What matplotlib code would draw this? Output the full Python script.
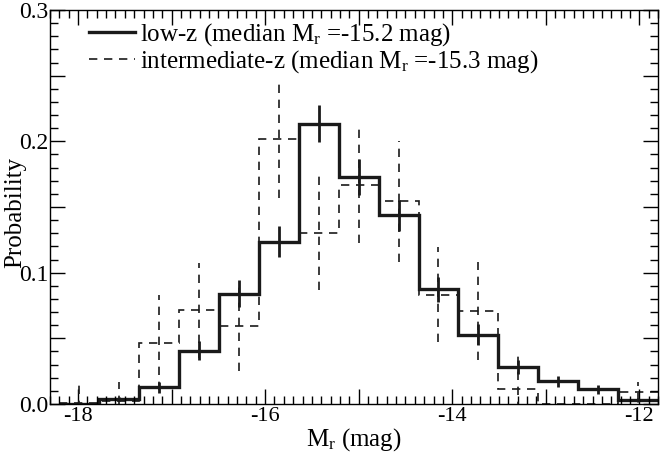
import numpy as np
import matplotlib
matplotlib.use("Agg")
import matplotlib.pyplot as plt
from matplotlib.ticker import MultipleLocator, FuncFormatter
from matplotlib.lines import Line2D

plt.rcParams['font.family'] = ['Liberation Serif', 'DejaVu Serif']
plt.rcParams['mathtext.fontset'] = 'custom'
plt.rcParams['mathtext.rm'] = 'Liberation Serif'
plt.rcParams['mathtext.it'] = 'Liberation Serif:italic'
plt.rcParams['axes.unicode_minus'] = False

# ---- data ----
bin_edges = np.linspace(-18.2, -11.8, 16)
lowz_prob = [0.0, 0.0036, 0.0127, 0.0407, 0.084, 0.1237, 0.2134, 0.173,
             0.1436, 0.0873, 0.0529, 0.0283, 0.0175, 0.0112, 0.003]
lowz_err = [0.0, 0.0015, 0.0042, 0.0075, 0.0105, 0.012, 0.014, 0.0135,
            0.012, 0.0095, 0.008, 0.0055, 0.0042, 0.0035, 0.0016]
inter_prob = [0.0005, 0.0025, 0.0468, 0.0713, 0.0592, 0.202, 0.1305, 0.1667,
              0.1543, 0.0832, 0.0708, 0.0112, 0.0, 0.0, 0.0095]
inter_err = [0.016, 0.014, 0.036, 0.036, 0.034, 0.045, 0.044, 0.044,
             0.046, 0.036, 0.037, 0.027, 0.0, 0.0, 0.007]
label_low = 'low-z (median M$_\\mathrm{r}$ =-15.2 mag)'
label_int = 'intermediate-z (median M$_\\mathrm{r}$ =-15.3 mag)'

centers = 0.5 * (bin_edges[:-1] + bin_edges[1:])
ink = '#1a1a1a'
dash = (0, (5, 4))

fig = plt.figure(figsize=(6.6, 4.58), dpi=100)
ax = fig.add_axes([50/660, 54/458, 608/660, 394/458])

# intermediate-z dashed
ax.stairs(inter_prob, bin_edges, baseline=None, color=ink, lw=1.2,
          linestyle=dash)
eb = ax.errorbar(centers, inter_prob, yerr=inter_err, fmt='none',
                 ecolor=ink, elinewidth=1.2, capsize=0)
eb[2][0].set_linestyle(dash)

# low-z solid
ax.stairs(lowz_prob, bin_edges, baseline=None, color=ink, lw=2.4)
ax.errorbar(centers, lowz_prob, yerr=lowz_err, fmt='none',
            ecolor=ink, elinewidth=2.0, capsize=0)

ax.set_xlim(-18.3, -11.8)
ax.set_ylim(0.0, 0.3)

ax.xaxis.set_major_locator(MultipleLocator(1))
ax.xaxis.set_minor_locator(MultipleLocator(0.1))
ax.yaxis.set_major_locator(MultipleLocator(0.05))
ax.yaxis.set_minor_locator(MultipleLocator(0.01))
ax.xaxis.set_major_formatter(FuncFormatter(
    lambda v, p: ('%d' % round(v)) if abs(round(v)) % 2 == 0 else ''))
ax.yaxis.set_major_formatter(FuncFormatter(
    lambda v, p: ('%.1f' % v) if abs(v * 10 - round(v * 10)) < 1e-6 else ''))

ax.tick_params(which='both', direction='in', top=True, right=True,
               labelsize=16, width=1.0)
ax.tick_params(axis='x', pad=2)
ax.tick_params(axis='y', pad=1, labelsize=17)
ax.tick_params(which='major', length=11)
ax.tick_params(which='minor', length=6)
for s in ax.spines.values():
    s.set_linewidth(1.0)

ax.set_xlabel('M$_\\mathrm{r}$ (mag)', fontsize=18, labelpad=0)
fig.text(15/660, 1 - 212/458, 'Probability', fontsize=18, rotation=90,
         ha='center', va='center')

handles = [Line2D([], [], color=ink, lw=2.4),
           Line2D([], [], color=ink, lw=1.2, linestyle=dash)]
ax.legend(handles, [label_low, label_int], loc='upper left', frameon=False,
          fontsize=18, handlelength=1.85, handletextpad=0.2,
          labelspacing=0.0, borderaxespad=0.0, bbox_to_anchor=(0.06, 0.977),
          borderpad=0.1)

fig.savefig('out.png', dpi=100)
